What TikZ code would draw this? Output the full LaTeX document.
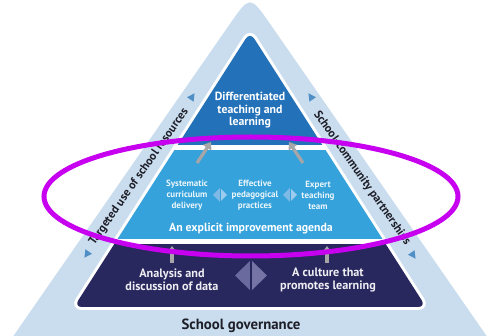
\documentclass[tikz,border=0pt]{standalone}
\usepackage{fontspec}
\setmainfont{PT Sans}
\usetikzlibrary{arrows.meta}
\definecolor{bandcol}{HTML}{C9DDEE}
\definecolor{topcol}{HTML}{2372B9}
\definecolor{midcol}{HTML}{35A2DC}
\definecolor{botcol}{HTML}{28275E}
\definecolor{markcol}{HTML}{4F8FC6}
\definecolor{arrcol}{HTML}{A6A6A8}
\definecolor{ringcol}{HTML}{C800F0}
\definecolor{sidetext}{HTML}{1E1E28}
\definecolor{dialeft}{HTML}{7FB9E6}
\definecolor{diaright}{HTML}{9CCBEE}
\definecolor{bigleft}{HTML}{6B6A9E}
\definecolor{bigright}{HTML}{7674A4}
\begin{document}
\begin{tikzpicture}[x=1pt,y=-1pt,
  toptext/.style={text=white, font=\bfseries\fontsize{11.8}{12.5}\selectfont, align=center, inner sep=0pt},
  smalltext/.style={text=white!90!midcol, font=\bfseries\fontsize{9}{11}\selectfont, align=center, inner sep=0pt},
  agendatext/.style={text=white, font=\bfseries\fontsize{11.8}{13}\selectfont, inner sep=0pt},
  bottext/.style={text=white!92!botcol, font=\bfseries\fontsize{12.2}{13}\selectfont, align=center, inner sep=0pt},
  sidelabel/.style={text=sidetext, font=\bfseries\fontsize{11.8}{12}\selectfont, inner sep=0pt},
  govtext/.style={text=sidetext, font=\bfseries\fontsize{14.8}{15}\selectfont, inner sep=0pt},
  grayarrow/.style={draw=arrcol, line width=3.2pt, -{Triangle[width=10pt,length=7pt]}},
  markerfill/.style={fill=markcol}
]
\useasboundingbox (0,0) rectangle (491,336);
\fill[white] (0,0) rectangle (491,336);
\begin{scope}
\clip (0,0) rectangle (491,336);
% outer light triangle
\fill[bandcol] (12,338) -- (229.5,24.5) .. controls (250,-5) .. (270.5,24.5) -- (488,338) -- cycle;
% inner pyramid white outline
\fill[white, draw=white, line width=6pt, rounded corners=8pt] (250,32) -- (74,307) -- (426,307) -- cycle;
\begin{scope}
\clip[rounded corners=8pt] (250,32) -- (74,307) -- (426,307) -- cycle;
\fill[topcol] (0,0) rectangle (491,145);
\fill[midcol] (0,150) rectangle (491,239.5);
\fill[botcol] (0,244.5) rectangle (491,340);
\end{scope}
\end{scope}

% side markers
\fill[markerfill, shift={(192,97)}, rotate=55] (4.5,0) -- (-3,4) -- (-3,-4) -- cycle;
\fill[markerfill, shift={(87,254)}, rotate=235] (4.5,0) -- (-3,4) -- (-3,-4) -- cycle;
\fill[markerfill, shift={(311,97)}, rotate=125] (4.5,0) -- (-3,4) -- (-3,-4) -- cycle;
\fill[markerfill, shift={(413,255)}, rotate=-55] (4.5,0) -- (-3,4) -- (-3,-4) -- cycle;

% side labels
\node[sidelabel, rotate=55] (left) at (139,177) {Targeted use of school resources};
\node[sidelabel, rotate=-55] (right) at (362,178) {School-community partnerships};

% top section
\node[toptext] (diff) at (250,110.5) {Differentiated\\teaching and\\learning};

% gray arrows into top
\coordinate (a1t) at (197,163);
\coordinate (a1h) at (211,142);
\coordinate (a2t) at (303,163);
\coordinate (a2h) at (289,142);
\draw[grayarrow] (a1t) -- (a1h);
\draw[grayarrow] (a2t) -- (a2h);

% middle section
\node[smalltext] (sys) at (187,195) {Systematic\\curriculum\\delivery};
\node[smalltext] (eff) at (255,195) {Effective\\pedagogical\\practices};
\node[smalltext] (exp) at (318,195) {Expert\\teaching\\team};
\fill[dialeft] (220,188) -- (213,195) -- (220,202) -- cycle;
\fill[diaright] (220,188) -- (227,195) -- (220,202) -- cycle;
\draw[midcol, line width=1pt] (220,188) -- (220,202);
\fill[dialeft] (290,188) -- (283,195) -- (290,202) -- cycle;
\fill[diaright] (290,188) -- (297,195) -- (290,202) -- cycle;
\draw[midcol, line width=1pt] (290,188) -- (290,202);
\node[agendatext] (agenda) at (251,228.5) {An explicit improvement agenda};

% bottom section
\coordinate (b1t) at (172,263);
\coordinate (b1h) at (172,246);
\coordinate (b2t) at (327,263);
\coordinate (b2h) at (327,246);
\draw[grayarrow] (b1t) -- (b1h);
\draw[grayarrow] (b2t) -- (b2h);
\node[bottext] (ana) at (172,280) {Analysis and\\discussion of data};
\node[bottext] (cul) at (328,280) {A culture that\\promotes learning};
\fill[bigleft] (251,260) -- (235,275.5) -- (251,291) -- cycle;
\fill[bigright] (251,260) -- (267,275.5) -- (251,291) -- cycle;
\draw[botcol, line width=1.5pt] (251,260) -- (251,291);

\node[govtext] (gov) at (241,326) {School governance};

% magenta ring
\draw[ringcol, line width=5pt] (251,196.5) ellipse [x radius=207, y radius=59.5];
\end{tikzpicture}
\end{document}
